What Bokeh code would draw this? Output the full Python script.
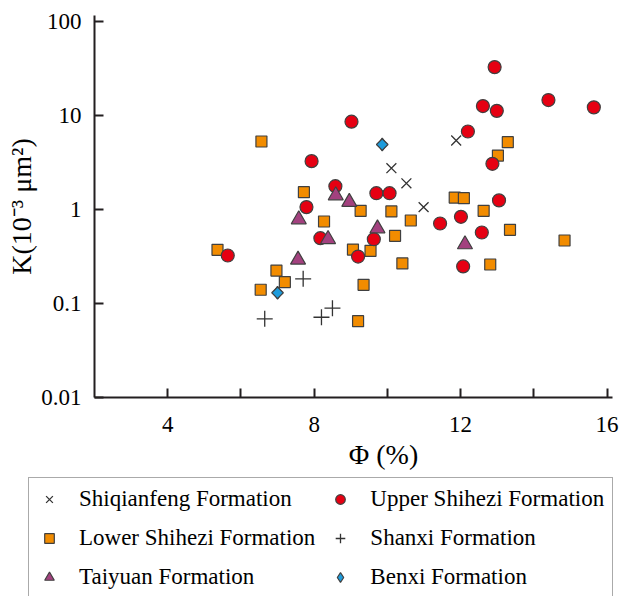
from bokeh.plotting import figure
from bokeh.models import (Range1d, FixedTicker, PrintfTickFormatter, CustomJSTickFormatter,
                          Legend, LegendItem, Label)
from bokeh.embed import file_html
from bokeh.resources import INLINE
import math

# ---- data (porosity %, permeability 10^-3 um^2) ----
shiqianfeng_phi = [11.88, 10.11, 10.52, 10.99]
shiqianfeng_k = [5.42, 2.75, 1.90, 1.06]

upper_phi = [5.64, 7.93, 7.79, 8.58, 9.02, 9.70, 10.06, 12.20, 12.61, 12.99, 12.93,
             14.40, 15.64, 12.87, 13.05, 8.17, 9.20, 9.63, 11.44, 12.01, 12.58, 12.07]
upper_k = [0.324, 3.27, 1.06, 1.77, 8.6, 1.49, 1.49, 6.76, 12.6, 11.2, 32.7,
           14.6, 12.2, 3.06, 1.25, 0.495, 0.316, 0.483, 0.71, 0.836, 0.569, 0.248]

lower_phi = [6.56, 7.72, 5.36, 6.97, 7.20, 6.54, 8.27, 9.27, 10.11, 11.84, 12.09, 12.63,
             13.02, 13.29, 10.64, 10.21, 9.06, 9.54, 10.41, 9.35, 9.20, 13.35, 12.81, 14.84]
lower_k = [5.29, 1.53, 0.372, 0.224, 0.169, 0.140, 0.745, 0.968, 0.953, 1.34, 1.32, 0.968,
           3.75, 5.2, 0.764, 0.525, 0.375, 0.363, 0.267, 0.158, 0.0649, 0.608, 0.26, 0.468]

shanxi_phi = [6.65, 7.70, 8.20, 8.50]
shanxi_k = [0.0687, 0.183, 0.0714, 0.0891]

taiyuan_phi = [7.58, 8.59, 8.96, 7.56, 8.38, 9.73, 12.12]
taiyuan_k = [0.783, 1.41, 1.20, 0.292, 0.483, 0.628, 0.425]

benxi_phi = [9.86, 7.00]
benxi_k = [4.91, 0.13]

series_names = ["Shiqianfeng Formation", "Lower Shihezi Formation", "Taiyuan Formation",
                "Upper Shihezi Formation", "Shanxi Formation", "Benxi Formation"]

x_ticks = [4, 6, 8, 10, 12, 14, 16]
y_ticks = [0.01, 0.1, 1, 10, 100]
x_axis_extent = (2.0, 16.15)
y_axis_extent = (0.01, 115.8)
x_title = "Φ (%)"
y_title = "K(10⁻³ μm²)"

FONT = "Liberation Serif"
EDGE = "#404040"
AXIS = "#231f20"

# ---- page geometry: the frame fills the whole canvas, axes are pinned inside it ----
W, H = 621, 596
AX_LEFT, AX_RIGHT, AX_TOP, AX_BOTTOM = 94, 612, 15, 397   # pixel box of the axes
kx = (AX_RIGHT - AX_LEFT) / (x_axis_extent[1] - x_axis_extent[0])
x_start = x_axis_extent[0] - AX_LEFT / kx
x_end = x_axis_extent[1] + (W - AX_RIGHT) / kx
ly0, ly1 = math.log10(y_axis_extent[0]), math.log10(y_axis_extent[1])
ky = (AX_BOTTOM - AX_TOP) / (ly1 - ly0)
y_start = 10 ** (ly0 - (H - AX_BOTTOM) / ky)
y_end = 10 ** (ly1 + AX_TOP / ky)

p = figure(width=W, height=H, x_range=Range1d(x_start, x_end), y_range=Range1d(y_start, y_end),
           y_axis_type="log", output_backend="svg", toolbar_location=None, min_border=0)
p.grid.visible = False
p.outline_line_color = None

r_lower = p.scatter(lower_phi, lower_k, marker="square", size=11, fill_color="#f28c00",
                    line_color=EDGE, line_width=1.2)
r_upper = p.scatter(upper_phi, upper_k, marker="circle", size=13, fill_color="#e60012",
                    line_color=EDGE, line_width=1.2)
r_tai = p.scatter(taiyuan_phi, taiyuan_k, marker="triangle", size=15, fill_color="#a3417f",
                  line_color=EDGE, line_width=1.2)
r_shi = p.scatter(shiqianfeng_phi, shiqianfeng_k, marker="x", size=14, line_color="#333333",
                  line_width=1.3)
r_shan = p.scatter(shanxi_phi, shanxi_k, marker="cross", size=16, line_color="#333333",
                   line_width=1.3)
# Benxi: diamond (used for the key) under a 45-degree square that gives the wider plotted shape
r_ben = p.scatter(benxi_phi, benxi_k, marker="diamond", size=13, fill_color="#1e9cdc",
                  line_color=EDGE, line_width=1.2)
p.scatter(benxi_phi, benxi_k, marker="square", angle=0.7854, size=8.2,
          fill_color="#1e9cdc", line_color=EDGE, line_width=1.2)
renderers = [r_shi, r_lower, r_tai, r_upper, r_shan, r_ben]

for ax in (p.xaxis[0], p.yaxis[0]):
    ax.axis_line_color = AXIS
    ax.axis_line_width = 2
    ax.major_tick_line_color = AXIS
    ax.major_tick_line_width = 2
    ax.major_tick_in = 9
    ax.major_tick_out = 0
    ax.minor_tick_line_color = None
    ax.major_label_text_font = FONT
    ax.major_label_text_font_size = "23px"
    ax.major_label_text_color = "black"
    ax.axis_label_text_font = FONT
    ax.axis_label_text_font_size = "28px"
    ax.axis_label_text_font_style = "normal"
    ax.axis_label_text_color = "black"

p.xaxis.fixed_location = y_axis_extent[0]
p.xaxis.bounds = x_axis_extent
p.xaxis.ticker = FixedTicker(ticks=x_ticks)
p.xaxis.formatter = CustomJSTickFormatter(code="return (tick % 4 == 0) ? tick.toFixed(0) : '';")
p.xaxis.major_label_standoff = 19

p.yaxis.fixed_location = x_axis_extent[0]
p.yaxis.bounds = y_axis_extent
p.yaxis.ticker = FixedTicker(ticks=y_ticks)
p.yaxis.formatter = PrintfTickFormatter(format="%g")
p.yaxis.major_label_standoff = 13
p.yaxis.axis_label = y_title
p.yaxis.axis_label_standoff = 1

# x-axis title sits right of the axis centre in the original
p.add_layout(Label(x=x_axis_extent[0] + (383 - AX_LEFT) / kx,
                   y=10 ** (ly0 - (454 - AX_BOTTOM) / ky),
                   text=x_title, text_align="center", text_baseline="middle",
                   text_font=FONT, text_font_size="28px", text_color="black"))

legend = Legend(items=[LegendItem(label=n, renderers=[r]) for n, r in zip(series_names, renderers)],
                location=(28, -3), orientation="vertical", nrows=3,
                label_text_font=FONT, label_text_font_size="23px", label_text_color="black",
                glyph_width=24, glyph_height=24, label_standoff=18, spacing=13, padding=8,
                border_line_color="#555555", border_line_width=1,
                background_fill_color="white", background_fill_alpha=1.0, margin=0)
p.add_layout(legend)

open("out.html", "w").write(file_html(p, INLINE))
